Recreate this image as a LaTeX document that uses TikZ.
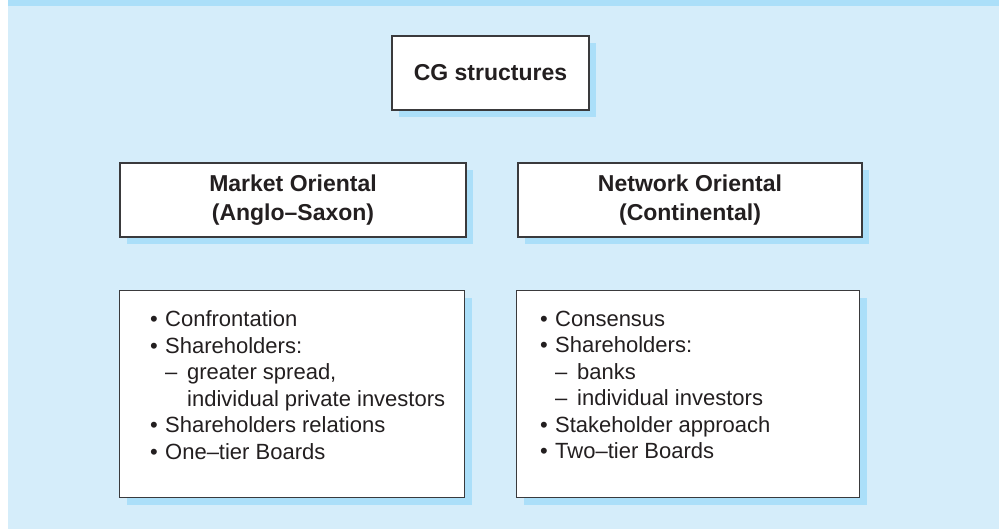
\documentclass[tikz,border=0pt]{standalone}
\usepackage{fontspec}
\setmainfont{Liberation Sans}
\usetikzlibrary{shadows}

\definecolor{grund}{HTML}{D5EDFA}
\definecolor{band}{HTML}{ABDFF9}
\definecolor{rand}{HTML}{3A3A3C}
\definecolor{schrift}{HTML}{231F20}

\newcommand{\pkt}{\makebox[15pt][l]{\textbullet}}
\newcommand{\strich}{\makebox[22pt][l]{–}}
\newcommand{\einzug}{\hphantom{\pkt}}

\tikzset{
  kasten/.style={rectangle, draw=rand, line width=1.2pt, fill=white, inner sep=0pt,
    text=schrift, drop shadow={shadow xshift=7pt, shadow yshift=-7pt, fill=band, opacity=1}},
  kopf/.style={kasten, align=center, font=\bfseries\fontsize{23}{29}\selectfont},
  punkte/.style={anchor=west, align=left, text=schrift, inner sep=0pt, font=\fontsize{22}{26.5}\selectfont}
}

\begin{document}
\begin{tikzpicture}[x=1pt,y=-1pt]
    \useasboundingbox (0,0) rectangle (999,529);
    % Hintergrund
    \fill [grund] (8,0) rectangle (999,529);
    \fill [band] (8,0) rectangle (999,6);
    % Oben
    \draw (490.5,73) node[kopf, minimum width=197pt, minimum height=74pt] (cg) {CG structures};
    % Mitte
    \draw (293,200) node[kopf, minimum width=346pt, minimum height=74pt] (markt) {Market Oriental\\(Anglo–Saxon)};
    \draw (690,200) node[kopf, minimum width=344pt, minimum height=74pt] (netz) {Network Oriental\\(Continental)};
    % Unten
    \draw (119,290) node[kasten, anchor=north west, minimum width=345pt, minimum height=207pt] (marktkasten) {};
    \draw (516,290) node[kasten, anchor=north west, minimum width=343pt, minimum height=207pt] (netzkasten) {};
    \draw (150,385) node[punkte] (marktliste)
        {\pkt Confrontation\\ \pkt Shareholders:\\ \einzug\strich greater spread,\\ \einzug\hphantom{\strich}individual private investors\\ \pkt Shareholders relations\\ \pkt One–tier Boards};
    \draw (540,385) node[punkte] (netzliste)
        {\pkt Consensus\\ \pkt Shareholders:\\ \einzug\strich banks\\ \einzug\strich individual investors\\ \pkt Stakeholder approach\\ \pkt Two–tier Boards};
\end{tikzpicture}
\end{document}
